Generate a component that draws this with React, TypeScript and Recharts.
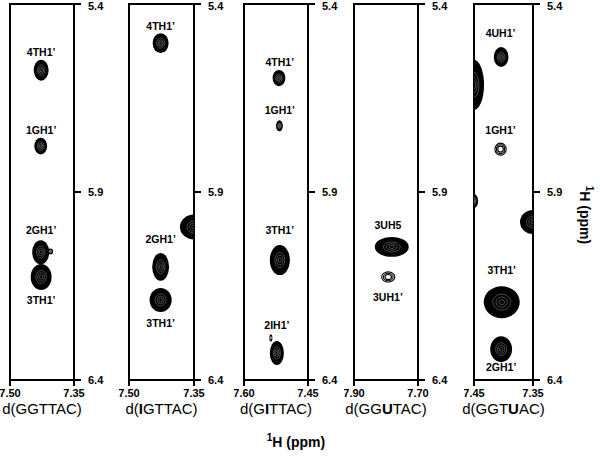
import React from 'react';
import { ScatterChart, Scatter, XAxis, YAxis, ReferenceArea } from 'recharts';

type Peak = { x: number; y: number; wx: number; wy: number; amp: number };
type Label = { x: number; y: number; text: string };

// shared 1H (ppm) range of every strip
const yDomain = [5.4, 6.4];
const yTicks = [5.4, 5.9, 6.4];

// x ranges (ppm) of the five strips
const xDomains = [
  [7.35, 7.5],
  [7.35, 7.5],
  [7.45, 7.6],
  [7.7, 7.9],
  [7.35, 7.45],
];

// strip names, split so the modified base can be bold
const titles = [
  ['d(GGTTAC)', '', ''],
  ['d(', 'I', 'GTTAC)'],
  ['d(G', 'I', 'TTAC)'],
  ['d(GG', 'U', 'TAC)'],
  ['d(GGT', 'U', 'AC)'],
];

// cross peaks: centre (ppm), linewidths (ppm), relative amplitude
const peaksGGTTAC: Peak[] = [
  { x: 7.427, y: 5.576, wx: 0.035, wy: 0.056, amp: 1 },
  { x: 7.428, y: 5.778, wx: 0.03, wy: 0.045, amp: 1 },
  { x: 7.428, y: 6.06, wx: 0.04, wy: 0.064, amp: 1 },
  { x: 7.427, y: 6.126, wx: 0.049, wy: 0.069, amp: 1 },
  { x: 7.405, y: 6.058, wx: 0.012, wy: 0.016, amp: 0.6 },
];
const peaksIGTTAC: Peak[] = [
  { x: 7.427, y: 5.504, wx: 0.037, wy: 0.053, amp: 1 },
  { x: 7.35, y: 5.993, wx: 0.065, wy: 0.066, amp: 1 },
  { x: 7.427, y: 6.099, wx: 0.039, wy: 0.074, amp: 1 },
  { x: 7.427, y: 6.187, wx: 0.051, wy: 0.064, amp: 1 },
];
const peaksGITTAC: Peak[] = [
  { x: 7.518, y: 5.597, wx: 0.03, wy: 0.043, amp: 1 },
  { x: 7.517, y: 5.724, wx: 0.016, wy: 0.029, amp: 0.7 },
  { x: 7.516, y: 6.081, wx: 0.047, wy: 0.08, amp: 1 },
  { x: 7.523, y: 6.328, wx: 0.033, wy: 0.064, amp: 1 },
  { x: 7.537, y: 6.288, wx: 0.007, wy: 0.019, amp: 0.6 },
];
const peaksGGUTAC: Peak[] = [
  { x: 7.782, y: 6.046, wx: 0.106, wy: 0.053, amp: 1 },
  { x: 7.793, y: 6.126, wx: 0.041, wy: 0.027, amp: 0.3 },
];
const peaksGGTUAC: Peak[] = [
  { x: 7.404, y: 5.541, wx: 0.025, wy: 0.053, amp: 1 },
  { x: 7.45, y: 5.615, wx: 0.034, wy: 0.133, amp: 1 },
  { x: 7.405, y: 5.786, wx: 0.019, wy: 0.032, amp: 0.3 },
  { x: 7.45, y: 5.924, wx: 0.014, wy: 0.037, amp: 1 },
  { x: 7.35, y: 5.98, wx: 0.044, wy: 0.064, amp: 1 },
  { x: 7.403, y: 6.193, wx: 0.061, wy: 0.085, amp: 1 },
  { x: 7.404, y: 6.318, wx: 0.037, wy: 0.069, amp: 1 },
];

// assignments
const labelsGGTTAC: Label[] = [
  { x: 7.427, y: 5.528, text: '4TH1\u2019' },
  { x: 7.427, y: 5.735, text: '1GH1\u2019' },
  { x: 7.427, y: 6.001, text: '2GH1\u2019' },
  { x: 7.427, y: 6.187, text: '3TH1\u2019' },
];
const labelsIGTTAC: Label[] = [
  { x: 7.427, y: 5.459, text: '4TH1\u2019' },
  { x: 7.427, y: 6.025, text: '2GH1\u2019' },
  { x: 7.427, y: 6.248, text: '3TH1\u2019' },
];
const labelsGITTAC: Label[] = [
  { x: 7.516, y: 5.554, text: '4TH1\u2019' },
  { x: 7.516, y: 5.682, text: '1GH1\u2019' },
  { x: 7.516, y: 6.001, text: '3TH1\u2019' },
  { x: 7.523, y: 6.254, text: '2IH1\u2019' },
];
const labelsGGUTAC: Label[] = [
  { x: 7.794, y: 5.988, text: '3UH5' },
  { x: 7.794, y: 6.179, text: '3UH1\u2019' },
];
const labelsGGTUAC: Label[] = [
  { x: 7.405, y: 5.477, text: '4UH1\u2019' },
  { x: 7.405, y: 5.735, text: '1GH1\u2019' },
  { x: 7.403, y: 6.107, text: '3TH1\u2019' },
  { x: 7.404, y: 6.365, text: '2GH1\u2019' },
];

const allPeaks = [peaksGGTTAC, peaksIGTTAC, peaksGITTAC, peaksGGUTAC, peaksGGTUAC];
const allLabels = [labelsGGTTAC, labelsIGTTAC, labelsGITTAC, labelsGGUTAC, labelsGGTUAC];

// layout of the strips (pixels)
const plotLefts = [10, 129, 244, 354, 474];
const plotWidths = [64, 65, 64, 64, 59];
const PLOT_TOP = 4;
const PLOT_H = 376;

const FONT = '"Liberation Sans", Arial, Helvetica, sans-serif';

const peakShape = (kx: number, ky: number) => (props: any) => {
  const { cx, cy, payload } = props;
  const rx = (payload.wx * kx) / 2;
  const ry = (payload.wy * ky) / 2;
  if (payload.amp >= 0.5) {
    return (
      <g>
        <ellipse cx={cx} cy={cy} rx={rx} ry={ry} fill="#000" />
        {[0.5, 0.32, 0.16].map((f) => (
          <ellipse key={f} cx={cx} cy={cy} rx={rx * f} ry={ry * f} fill="none" stroke="#fff" strokeWidth={0.5} opacity={0.55} />
        ))}
      </g>
    );
  }
  return (
    <g>
      {[1, 0.74, 0.5].map((f) => (
        <ellipse key={f} cx={cx} cy={cy} rx={rx * f} ry={ry * f} fill="none" stroke="#000" strokeWidth={1.1} />
      ))}
    </g>
  );
};

const labelShape = (props: any) => {
  const { cx, cy, payload } = props;
  return (
    <text x={cx} y={cy} textAnchor="middle" dominantBaseline="central" fontSize={10.5} fontWeight="bold" fontFamily={FONT} fill="#000">
      {payload.text}
    </text>
  );
};

// right-hand tick text, kept inside the page at the top edge
const YTick = (props: any) => {
  const { x, y, payload } = props;
  return (
    <text x={x} y={Math.max(y, 5.5)} dominantBaseline="central" fontSize={11} fontWeight="bold" fontFamily={FONT} fill="#000">
      {payload.value.toFixed(1)}
    </text>
  );
};

const Strip = ({ i }: { i: number }) => {
  const domain = xDomains[i];
  const w = plotWidths[i];
  const kx = w / (domain[1] - domain[0]);
  const ky = PLOT_H / (yDomain[1] - yDomain[0]);
  const tickStyle = { fill: '#000', fontSize: 11, fontWeight: 'bold', fontFamily: FONT };
  return (
    <div style={{ position: 'absolute', left: plotLefts[i] - 10, top: 0 }}>
      <ScatterChart width={10 + w + 40} height={PLOT_TOP + PLOT_H + 40} margin={{ top: PLOT_TOP, right: 0, bottom: 0, left: 10 }}>
        <XAxis
          dataKey="x"
          type="number"
          domain={domain}
          reversed
          allowDataOverflow
          ticks={domain}
          interval={0}
          height={40}
          tickSize={6}
          tickMargin={3}
          axisLine={false}
          tickLine={{ stroke: '#000', strokeWidth: 2 }}
          tick={tickStyle}
          tickFormatter={(v: number) => v.toFixed(2)}
        />
        <YAxis
          dataKey="y"
          type="number"
          orientation="right"
          domain={yDomain}
          reversed
          allowDataOverflow
          ticks={yTicks}
          interval={0}
          width={40}
          tickSize={7}
          tickMargin={7}
          axisLine={false}
          tickLine={{ stroke: '#000', strokeWidth: 2 }}
          tick={<YTick />}
        />
        <Scatter data={allPeaks[i]} shape={peakShape(kx, ky)} isAnimationActive={false} />
        <Scatter data={allLabels[i]} shape={labelShape} isAnimationActive={false} />
        <ReferenceArea x1={domain[0]} x2={domain[1]} y1={yDomain[0]} y2={yDomain[1]} fill="none" fillOpacity={0} stroke="#000" strokeWidth={2} ifOverflow="visible" />
      </ScatterChart>
    </div>
  );
};

export default function App() {
  return (
    <div style={{ position: 'absolute', left: 0, top: 0, width: 600, height: 462, background: '#fff', overflow: 'hidden' }}>
      {xDomains.map((_, i) => (
        <Strip key={i} i={i} />
      ))}
      <svg width={600} height={462} style={{ position: 'absolute', left: 0, top: 0, pointerEvents: 'none' }}>
        {titles.map((t, i) => (
          <text key={i} x={plotLefts[i] + plotWidths[i] / 2} y={414} textAnchor="middle" fontSize={15} fontFamily={FONT} fill="#000">
            {t[0]}
            <tspan fontWeight="bold">{t[1]}</tspan>
            {t[2]}
          </text>
        ))}
        <text x={296} y={447} textAnchor="middle" fontSize={14} fontWeight="bold" fontFamily={FONT} fill="#000">
          <tspan fontSize={10} dy={-6}>1</tspan>
          <tspan dy={6}>H (ppm)</tspan>
        </text>
        <text x={0} y={0} transform="translate(580 215) rotate(90)" textAnchor="middle" fontSize={14} fontWeight="bold" fontFamily={FONT} fill="#000">
          <tspan fontSize={10} dy={-6}>1</tspan>
          <tspan dy={6}>H (ppm)</tspan>
        </text>
      </svg>
    </div>
  );
}
